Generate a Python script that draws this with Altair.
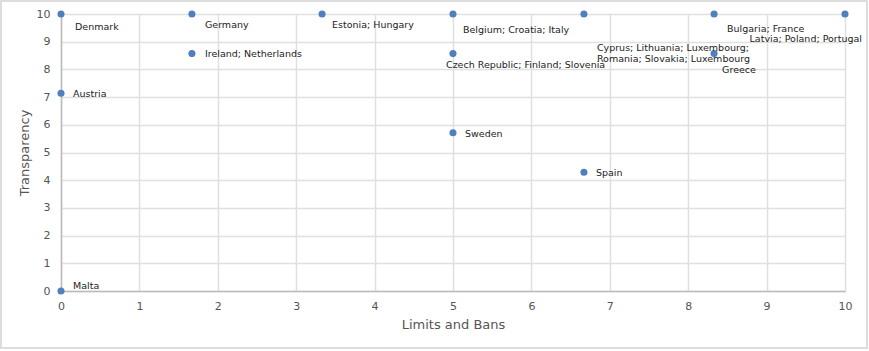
import altair as alt
import pandas as pd

# ---- data ----
limits = [0, 1.67, 3.33, 5, 6.67, 8.33, 10, 1.67, 5, 8.33, 0, 5, 6.67, 0]
transparency = [10, 10, 10, 10, 10, 10, 10, 8.57, 8.57, 8.57, 7.14, 5.71, 4.29, 0]
labels = [
    "Denmark", "Germany", "Estonia; Hungary", "Belgium; Croatia; Italy",
    "Cyprus; Lithuania; Luxembourg;|Romania; Slovakia; Luxembourg",
    "Bulgaria; France", "Latvia; Poland; Portugal",
    "Ireland; Netherlands", "Czech Republic; Finland; Slovenia", "Greece",
    "Austria", "Sweden", "Spain", "Malta",
]
x_ticks = list(range(0, 11))
y_ticks = list(range(0, 11))

# label placement (style only, index into labels)
placement = {
    0: ("left", 14, 13), 1: ("left", 13, 11), 2: ("left", 10, 11),
    3: ("left", 10, 16), 4: ("left", 13, 34), 5: ("left", 13, 15),
    6: ("right", 17, 25), 7: ("left", 13, 0), 8: ("left", -7, 11),
    9: ("left", 8, 16), 10: ("left", 12, 1), 11: ("left", 12, 1),
    12: ("left", 12, 1), 13: ("left", 12, -5),
}

df = pd.DataFrame({"x": limits, "y": transparency, "label": labels})
df["lines"] = df["label"].str.split("|")

W, H = 784, 277
PL, PT, PR, PB = 61, 14, 24, 60

xs = alt.X("x:Q", scale=alt.Scale(domain=[0, 10], nice=False),
           axis=alt.Axis(values=x_ticks, title="Limits and Bans", tickSize=0,
                         labelPadding=9, titlePadding=7, format="d",
                         labelFlush=False, labelOverlap=False))
ys = alt.Y("y:Q", scale=alt.Scale(domain=[0, 10], nice=False),
           axis=alt.Axis(values=y_ticks, title="Transparency", tickSize=0,
                         labelPadding=11, titlePadding=5, format="d",
                         labelFlush=False, labelOverlap=False))

base = alt.Chart(df)
points = base.mark_circle(size=50, color="#4f7fbf", opacity=1).encode(x=xs, y=ys)

layers = [points]
for i, (align, dx, dy) in placement.items():
    layers.append(
        base.transform_filter(alt.datum.label == labels[i])
        .mark_text(align=align, baseline="middle", dx=dx, dy=dy, fontSize=9.5,
                   font="DejaVu Sans", color="#222", lineHeight=11)
        .encode(x=xs, y=ys, text="lines")
    )

border = alt.Chart(pd.DataFrame({"a": [0]})).mark_rect(
    fill=None, stroke="#dddddd", strokeWidth=2
).encode(x=alt.value(-PL + 1), x2=alt.value(W + PR - 2),
         y=alt.value(-PT + 1), y2=alt.value(H + PB - 3))

chart = alt.layer(border, *layers).properties(
    width=W, height=H,
    autosize=alt.AutoSizeParams(type="none"),
    padding={"left": PL, "top": PT, "right": PR, "bottom": PB},
).configure_view(stroke=None).configure_axis(
    gridColor="#e0e0e0", gridWidth=1.5, domainColor="#bbbbbb", domainWidth=1.5,
    labelColor="#555555", labelFontSize=11, labelFont="DejaVu Sans",
    titleColor="#555555", titleFontSize=13, titleFont="DejaVu Sans",
    titleFontWeight="normal",
)

chart.save("out.html", embed_options={"renderer": "svg", "actions": False})
